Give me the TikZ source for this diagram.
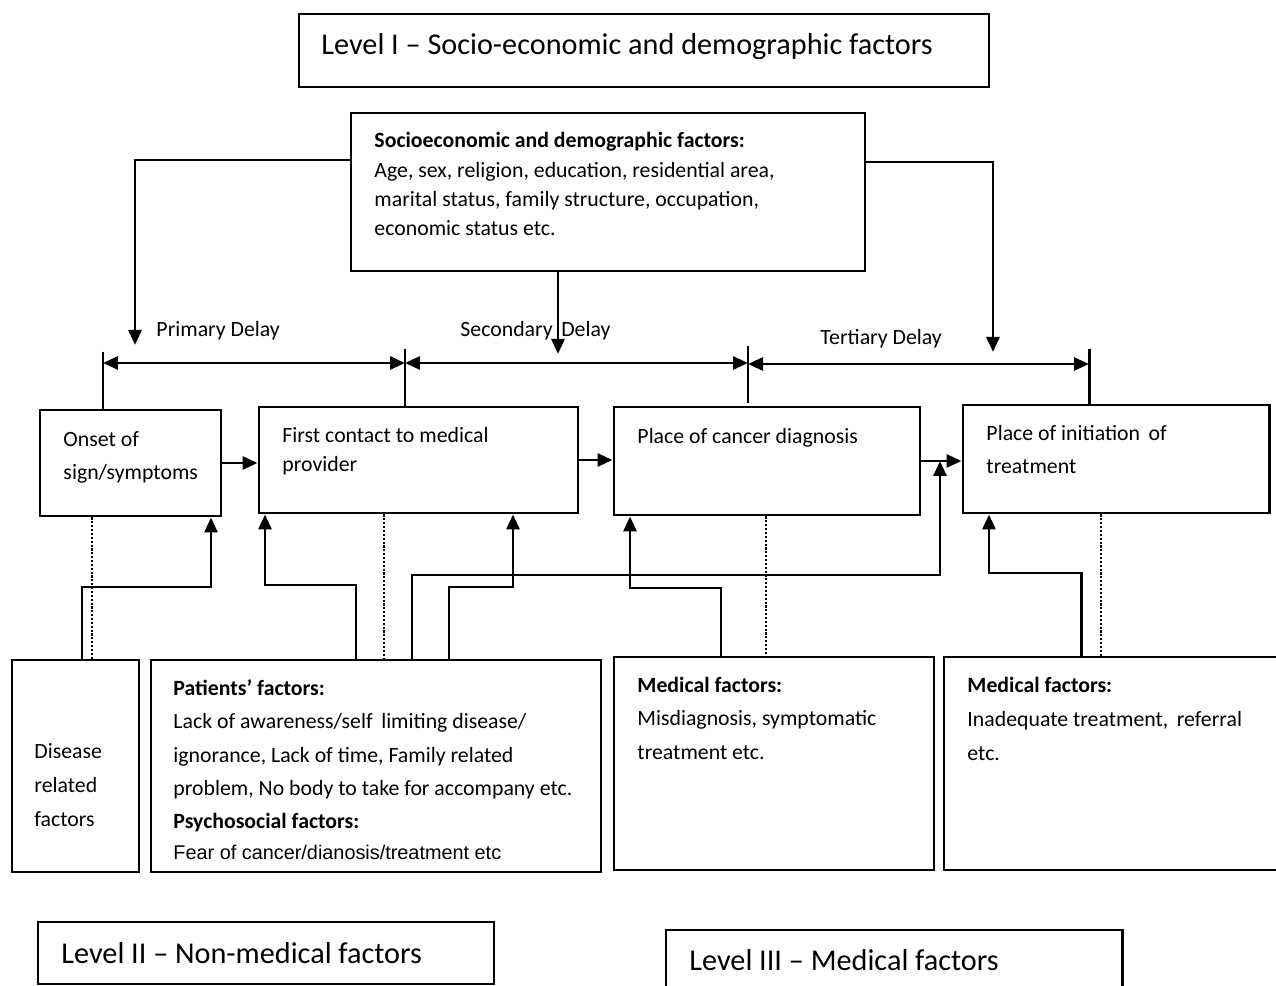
\documentclass[tikz,border=0pt]{standalone}
\usepackage{fontspec}
\setmainfont{Carlito}
\newfontfamily\arialfont{Liberation Sans}
\usetikzlibrary{arrows.meta,fit}
\begin{document}
\begin{tikzpicture}[x=0.02cm,y=-0.02cm,line width=1.7pt,
	box/.style={draw,inner sep=0pt,fit={#1}},
	txt/.style={anchor=west,inner sep=0pt,text height=0.9em,text depth=0.1em,font=\fontsize{12.4}{14}\selectfont},
	bold/.style={txt,font=\fontsize{12.4}{14}\selectfont\bfseries},
	title/.style={txt,text height=0.96em,font=\fontsize{17.2}{20}\selectfont},
	arr/.style={-{Triangle[length=0.3cm,width=0.26cm]}},
	darr/.style={{Triangle[length=0.3cm,width=0.26cm]}-{Triangle[length=0.3cm,width=0.26cm]}},
	dots/.style={line width=1.2pt,dash pattern=on 1.2pt off 1pt}]
		\clip (0,0) rectangle (1276,986);
		% Niveaux
		\node[box={(299,14) (989,87)}] (lvl1) {};
		\node[title] (lvl1-t) at (320,47) {Level I – Socio-economic and demographic factors};
		\node[box={(38,922) (494,984)}] (lvl2) {};
		\node[title] (lvl2-t) at (60,956) {Level II – Non-medical factors};
		\node[box={(666,930) (1122,1000)}] (lvl3) {};
		\node[title] (lvl3-t) at (688,963) {Level III – Medical factors};
		
		% Facteurs socio-economiques
		\node[box={(351,113) (865,271)}] (socio) {};
		\node[bold] (socio-t0) at (373,140) {Socioeconomic and demographic factors:};
		\node[txt] (socio-t1) at (373,170) {Age, sex, religion, education, residential area,};
		\node[txt] (socio-t2) at (373,199) {marital status, family structure, occupation,};
		\node[txt] (socio-t3) at (373,228) {economic status etc.};
		
		% Etapes
		\node[box={(40,410) (221,516)}] (onset) {};
		\node[txt] (onset-t1) at (62,439) {Onset of};
		\node[txt] (onset-t2) at (62,472) {sign/symptoms};
		\node[box={(259,407) (578,513)}] (fc) {};
		\node[txt] (fc-t1) at (281,435) {First contact to medical};
		\node[txt] (fc-t2) at (281,464) {provider};
		\node[box={(614,407) (920,515)}] (pcd) {};
		\node[txt] (pcd-t1) at (636,436) {Place of cancer diagnosis};
		\node[box={(963,405) (1269,513)}] (pi) {};
		\node[txt] (pi-t1) at (985,433) {Place of initiation\, of};
		\node[txt] (pi-t2) at (985,466) {treatment};
		
		% Facteurs du bas
		\node[box={(12,660) (139,872)}] (disease) {};
		\node[txt] (disease-t1) at (33,751) {Disease};
		\node[txt] (disease-t2) at (33,785) {related};
		\node[txt] (disease-t3) at (33,819) {factors};
		\node[box={(151,660) (601,872)}] (pat) {};
		\node[bold] (pat-t0) at (172,688) {Patients’ factors:};
		\node[txt] (pat-t1) at (172,721) {Lack of awareness/self\, limiting disease/};
		\node[txt] (pat-t2) at (172,755) {ignorance, Lack of time, Family related};
		\node[txt] (pat-t3) at (172,788) {problem, No body to take for accompany etc.};
		\node[bold] (pat-t4) at (172,821) {Psychosocial factors:};
		\node[txt,font=\arialfont\fontsize{11.3}{13}\selectfont] (pat-t5) at (172,852) {Fear of cancer/dianosis/treatment etc};
		\node[box={(614,657) (934,870)}] (med1) {};
		\node[bold] (med1-t0) at (636,685) {Medical factors:};
		\node[txt] (med1-t1) at (636,718) {Misdiagnosis, symptomatic};
		\node[txt] (med1-t2) at (636,752) {treatment etc.};
		\node[box={(944,657) (1290,870)}] (med2) {};
		\node[bold] (med2-t0) at (966,685) {Medical factors:};
		\node[txt] (med2-t1) at (966,719) {Inadequate treatment,\, referral};
		\node[txt] (med2-t2) at (966,753) {etc.};
		
		% Delais
		\coordinate (t1) at (103,352);
		\coordinate (t2) at (405,349);
		\coordinate (t3) at (748,346);
		\coordinate (t4) at (1089,349);
		\draw (t1) -- (t1 |- onset.north);
		\draw (t2) -- (t2 |- fc.north);
		\draw (t3) -- (748,403);
		\draw (t4) -- (t4 |- pi.north);
		\draw[darr] (103,363) -- (405,363);
		\draw[darr] (405,363) -- (748,363);
		\draw[darr] (748,364) -- (1089,364);
		\node[txt] (primary) at (155,329) {Primary Delay};
		\node[txt] (secondary) at (459,329) {Secondary\, Delay};
		\node[txt] (tertiary) at (819,337) {Tertiary Delay};
		
		% Fleches du haut
		\draw[arr] (socio.west |- 0,160) -| (135,345);
		\draw[arr] (558,0 |- socio.south) -- (558,354);
		\draw[arr] (socio.east |- 0,162) -| (993,352);
		
		% Fleches entre etapes
		\draw[arr] (onset.east) -- (onset.east -| fc.west);
		\draw[arr] (fc.east) -- (fc.east -| pcd.west);
		\draw[arr] (pcd.east) -- (pcd.east -| pi.west);
		
		% Fleches du bas
		\draw[arr] (82,0 |- disease.north) |- (211,587) -- (211,0 |- onset.south);
		\draw[arr] (356,0 |- pat.north) |- (265,585) -- (265,0 |- fc.south);
		\draw[arr] (412,0 |- pat.north) |- (940,575) -- (pcd.east -| 940,0);
		\draw[arr] (449,0 |- pat.north) |- (513,587) -- (513,0 |- fc.south);
		\draw[arr] (721,0 |- med1.north) |- (630,588) -- (630,0 |- pcd.south);
		\draw[arr] (1081,0 |- med2.north) |- (989,573) -- (989,0 |- pi.south);
		\draw[dots] (92,0 |- onset.south) -- (92,0 |- disease.north);
		\draw[dots] (384,0 |- fc.south) -- (384,0 |- pat.north);
		\draw[dots] (766,0 |- pcd.south) -- (766,0 |- med1.north);
		\draw[dots] (1101,0 |- pi.south) -- (1101,0 |- med2.north);
	\end{tikzpicture}
\end{document}
